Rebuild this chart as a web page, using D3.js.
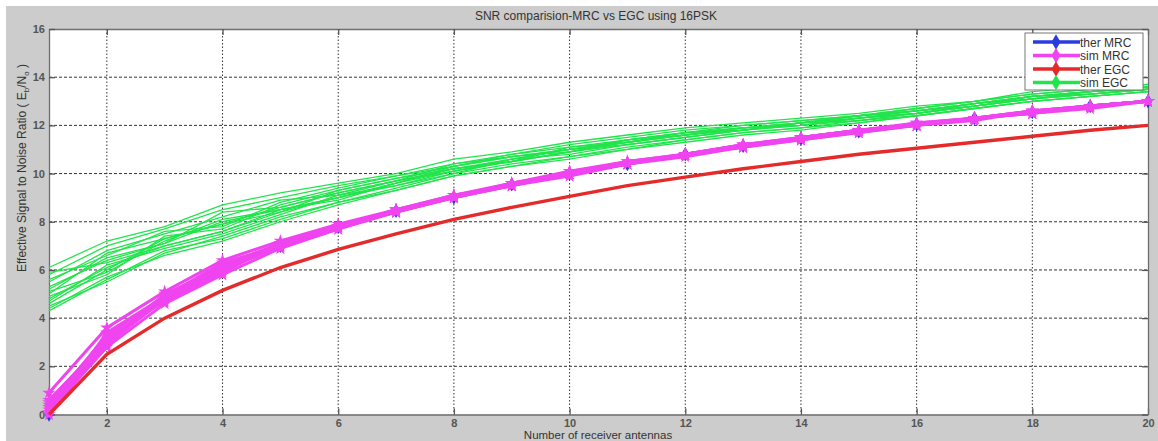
<!DOCTYPE html>
<html>
<head>
<meta charset="utf-8">
<script src="https://cdn.jsdelivr.net/npm/d3@7"></script>
<style>
  html, body { margin: 0; padding: 0; background: #ffffff; }
  svg { display: block; }
  text { font-family: "Liberation Sans", Arial, sans-serif; }
</style>
</head>
<body>
<svg id="chart" width="1158" height="441"></svg>
<script>
// Number of receiver antennas
const antennas = d3.range(1, 21);

// Theoretical effective SNR (dB)
const therMRC = [0, 3.0, 4.8, 6.0, 7.0, 7.8, 8.45, 9.0, 9.55, 10.0, 10.4, 10.8, 11.15, 11.45, 11.75, 12.05, 12.3, 12.55, 12.8, 13.0];
const therEGC = [0, 2.5, 4.0, 5.15, 6.1, 6.85, 7.5, 8.1, 8.6, 9.05, 9.5, 9.85, 10.2, 10.5, 10.8, 11.05, 11.3, 11.55, 11.8, 12.0];

// Simulated MRC runs
const simMRC1 = [0.9, 3.6, 5.1, 6.4, 7.2, 7.9, 8.5, 9.1, 9.6, 10.1, 10.5, 10.8, 11.2, 11.5, 11.8, 12.1, 12.3, 12.6, 12.8, 13.0];
const simMRC2 = [0.4, 3.3, 4.9, 6.2, 7.1, 7.8, 8.5, 9.0, 9.6, 10.0, 10.4, 10.8, 11.1, 11.5, 11.8, 12.0, 12.3, 12.5, 12.8, 13.0];
const simMRC3 = [0.1, 2.8, 4.6, 5.8, 6.9, 7.7, 8.4, 9.0, 9.5, 10.0, 10.4, 10.8, 11.1, 11.4, 11.7, 12.0, 12.3, 12.5, 12.8, 13.0];
const simMRC4 = [0.6, 3.1, 4.8, 6.0, 7.0, 7.8, 8.4, 9.1, 9.5, 10.0, 10.4, 10.8, 11.2, 11.5, 11.7, 12.1, 12.3, 12.6, 12.8, 13.0];
const simMRC5 = [0.2, 3.0, 5.0, 6.1, 7.0, 7.7, 8.5, 9.0, 9.5, 9.9, 10.4, 10.8, 11.1, 11.4, 11.8, 12.0, 12.3, 12.5, 12.7, 13.0];
const simMRC6 = [0.3, 3.2, 4.7, 5.9, 7.1, 7.8, 8.4, 9.0, 9.6, 10.0, 10.4, 10.7, 11.1, 11.5, 11.8, 12.0, 12.2, 12.6, 12.8, 13.0];
const simMRC7 = [0.5, 2.9, 4.8, 6.1, 6.9, 7.8, 8.5, 9.1, 9.5, 10.0, 10.5, 10.8, 11.2, 11.4, 11.7, 12.0, 12.3, 12.5, 12.8, 13.0];
const simMRC8 = [0.0, 3.4, 4.9, 6.3, 7.0, 7.8, 8.4, 9.0, 9.5, 10.1, 10.4, 10.8, 11.1, 11.5, 11.8, 12.0, 12.3, 12.6, 12.8, 13.0];
const simMRC = [simMRC1, simMRC2, simMRC3, simMRC4, simMRC5, simMRC6, simMRC7, simMRC8];

// Simulated EGC runs
const simEGC1  = [6.1, 7.2, 7.8, 8.7, 9.2, 9.6, 10.0, 10.6, 10.9, 11.3, 11.6, 11.9, 12.1, 12.3, 12.5, 12.8, 13.0, 13.4, 13.6, 13.7];
const simEGC2  = [4.3, 5.6, 6.8, 7.3, 8.1, 8.8, 9.3, 9.9, 10.3, 10.6, 11.0, 11.3, 11.6, 11.8, 12.1, 12.4, 12.7, 13.0, 13.2, 13.4];
const simEGC3  = [5.9, 6.3, 7.0, 7.6, 8.4, 9.0, 9.6, 10.2, 10.5, 10.9, 11.3, 11.6, 11.9, 12.1, 12.3, 12.6, 12.9, 13.2, 13.4, 13.6];
const simEGC4  = [4.6, 6.0, 7.3, 7.9, 8.6, 9.2, 9.7, 10.1, 10.6, 11.0, 11.2, 11.5, 11.8, 12.0, 12.3, 12.5, 12.8, 13.1, 13.3, 13.5];
const simEGC5  = [5.2, 6.5, 7.1, 8.0, 8.5, 9.0, 9.6, 10.3, 10.7, 10.9, 11.4, 11.7, 11.8, 12.1, 12.4, 12.6, 12.9, 13.2, 13.4, 13.6];
const simEGC6  = [4.9, 5.8, 7.4, 7.7, 8.7, 9.3, 9.8, 10.2, 10.5, 11.1, 11.3, 11.6, 11.9, 12.0, 12.3, 12.5, 12.8, 13.1, 13.3, 13.5];
const simEGC7  = [5.5, 6.8, 7.5, 8.2, 8.9, 9.1, 9.5, 10.0, 10.6, 10.8, 11.2, 11.5, 11.8, 12.1, 12.2, 12.5, 12.8, 13.2, 13.3, 13.5];
const simEGC8  = [4.7, 6.2, 6.9, 7.5, 8.3, 9.1, 9.7, 10.4, 10.7, 11.0, 11.3, 11.7, 11.9, 12.0, 12.3, 12.6, 12.9, 13.1, 13.4, 13.6];
const simEGC9  = [5.1, 5.9, 7.2, 8.1, 8.5, 8.9, 9.6, 10.1, 10.5, 10.9, 11.4, 11.6, 11.8, 12.1, 12.4, 12.6, 12.8, 13.1, 13.4, 13.5];
const simEGC10 = [5.6, 6.6, 7.6, 7.8, 8.8, 9.4, 9.9, 10.3, 10.8, 11.1, 11.4, 11.7, 12.0, 12.2, 12.4, 12.7, 13.0, 13.3, 13.5, 13.6];
const simEGC11 = [4.5, 5.5, 6.7, 7.4, 8.2, 8.8, 9.4, 10.0, 10.4, 10.7, 11.1, 11.4, 11.7, 11.9, 12.1, 12.4, 12.7, 13.0, 13.2, 13.4];
const simEGC12 = [5.3, 6.4, 7.1, 8.4, 8.6, 9.2, 9.7, 10.2, 10.6, 11.0, 11.3, 11.6, 11.9, 12.1, 12.3, 12.5, 12.9, 13.2, 13.4, 13.6];
const simEGC13 = [4.8, 6.1, 7.0, 7.6, 8.5, 9.0, 9.5, 10.1, 10.5, 10.9, 11.2, 11.5, 11.8, 12.0, 12.2, 12.5, 12.8, 13.1, 13.3, 13.5];
const simEGC14 = [5.0, 6.7, 7.3, 7.9, 8.4, 9.3, 9.8, 10.3, 10.7, 11.0, 11.4, 11.7, 11.9, 12.1, 12.4, 12.6, 12.9, 13.2, 13.4, 13.6];
const simEGC15 = [5.8, 7.0, 7.7, 8.5, 9.0, 9.5, 9.9, 10.4, 10.8, 11.2, 11.5, 11.8, 12.0, 12.2, 12.4, 12.7, 13.0, 13.3, 13.5, 13.7];
const simEGC16 = [4.4, 5.7, 6.6, 7.2, 8.0, 8.7, 9.3, 9.9, 10.3, 10.7, 11.0, 11.4, 11.7, 11.9, 12.2, 12.4, 12.7, 13.0, 13.2, 13.4];
const simEGC = [simEGC1, simEGC2, simEGC3, simEGC4, simEGC5, simEGC6, simEGC7, simEGC8,
                simEGC9, simEGC10, simEGC11, simEGC12, simEGC13, simEGC14, simEGC15, simEGC16];

// Axis ticks
const xTicks = [2, 4, 6, 8, 10, 12, 14, 16, 18, 20];
const yTicks = [0, 2, 4, 6, 8, 10, 12, 14, 16];

const legendLabels = ["ther MRC", "sim MRC", "ther EGC", "sim EGC"];

const colors = {
  therMRC: "#2a3ce0",
  simMRC: "#f044f0",
  therEGC: "#e42a2a",
  simEGC: "#22e44c"
};
const legendColors = [colors.therMRC, colors.simMRC, colors.therEGC, colors.simEGC];

const W = 1158, H = 441;
const plot = { left: 49, right: 1148, top: 29, bottom: 414.5 };

const svg = d3.select("#chart");

// figure background
svg.append("rect").attr("x", 0).attr("y", 0).attr("width", W).attr("height", H).attr("fill", "#ffffff");
svg.append("rect").attr("x", 6).attr("y", 6).attr("width", W - 6).attr("height", H - 6).attr("fill", "#cccccc");

const x = d3.scaleLinear().domain([1, 20]).range([plot.left, plot.right]);
const y = d3.scaleLinear().domain([0, 16]).range([plot.bottom, plot.top]);

// axes area
svg.append("rect")
  .attr("x", plot.left).attr("y", plot.top)
  .attr("width", plot.right - plot.left).attr("height", plot.bottom - plot.top)
  .attr("fill", "#ffffff");

// grid
const grid = svg.append("g");
grid.selectAll("line.gx").data(xTicks.filter(d => d < 20)).join("line")
  .attr("x1", d => x(d)).attr("x2", d => x(d))
  .attr("y1", plot.top).attr("y2", plot.bottom)
  .attr("stroke", "#333").attr("stroke-width", 1).attr("stroke-dasharray", "1.5,2");
grid.selectAll("line.gy").data(yTicks.filter(d => d > 0 && d < 16)).join("line")
  .attr("x1", plot.left).attr("x2", plot.right)
  .attr("y1", d => y(d)).attr("y2", d => y(d))
  .attr("stroke", "#333").attr("stroke-width", 1).attr("stroke-dasharray", "3,2");

// axes with inward ticks on all sides
const axisStyle = g => {
  g.select(".domain").attr("stroke", "#6e6e6e").attr("stroke-width", 1.3);
  g.selectAll(".tick line").attr("stroke", "#555").attr("stroke-width", 1.3);
  g.selectAll(".tick text")
    .attr("fill", "#555").attr("font-size", 11).attr("font-weight", "bold");
};

svg.append("g").attr("transform", `translate(0,${plot.bottom})`)
  .call(d3.axisBottom(x).tickValues(xTicks).tickSize(-6).tickSizeOuter(0).tickPadding(5))
  .call(axisStyle);
svg.append("g").attr("transform", `translate(0,${plot.top})`)
  .call(d3.axisTop(x).tickValues(xTicks).tickSize(-6).tickSizeOuter(0).tickFormat(""))
  .call(axisStyle);
svg.append("g").attr("transform", `translate(${plot.left},0)`)
  .call(d3.axisLeft(y).tickValues(yTicks).tickSize(-6).tickSizeOuter(0).tickPadding(4))
  .call(axisStyle);
svg.append("g").attr("transform", `translate(${plot.right},0)`)
  .call(d3.axisRight(y).tickValues(yTicks).tickSize(-6).tickSizeOuter(0).tickFormat(""))
  .call(axisStyle);

const line = d3.line().x((d, i) => x(antennas[i])).y(d => y(d));
const diamond = d3.symbol().type(d3.symbolDiamond);
const star = d3.symbol().type(d3.symbolStar);

// theoretical MRC with diamond markers
const gTM = svg.append("g");
gTM.append("path").datum(therMRC).attr("d", line)
  .attr("fill", "none").attr("stroke", colors.therMRC).attr("stroke-width", 3);
gTM.selectAll("path.m").data(therMRC).join("path")
  .attr("transform", (d, i) => `translate(${x(antennas[i])},${y(d)})`)
  .attr("d", diamond.size(60)).attr("fill", colors.therMRC);

// simulated MRC runs
const gSM = svg.append("g");
simMRC.forEach(run => {
  gSM.append("path").datum(run).attr("d", line)
    .attr("fill", "none").attr("stroke", colors.simMRC).attr("stroke-width", 3);
  gSM.append("g").selectAll("path").data(run).join("path")
    .attr("transform", (d, i) => `translate(${x(antennas[i])},${y(d)})`)
    .attr("d", star.size(55)).attr("fill", colors.simMRC);
});

// theoretical EGC
svg.append("path").datum(therEGC).attr("d", line)
  .attr("fill", "none").attr("stroke", colors.therEGC).attr("stroke-width", 3.4);

// simulated EGC runs
const gSE = svg.append("g");
simEGC.forEach(run => {
  gSE.append("path").datum(run).attr("d", line)
    .attr("fill", "none").attr("stroke", colors.simEGC).attr("stroke-width", 1.3);
});

// title and labels
svg.append("text").attr("x", 596).attr("y", 20).attr("text-anchor", "middle")
  .attr("font-size", 12).attr("fill", "#333").text("SNR comparision-MRC vs EGC using 16PSK");

svg.append("text").attr("x", 598).attr("y", 439).attr("text-anchor", "middle")
  .attr("font-size", 11.5).attr("fill", "#333").text("Number of receiver antennas");

const yl = svg.append("text")
  .attr("transform", "translate(26,168) rotate(-90)")
  .attr("text-anchor", "middle").attr("font-size", 12).attr("fill", "#333");
yl.append("tspan").text("Effective Signal to Noise Ratio ( E");
yl.append("tspan").attr("font-size", 8).attr("dy", 3).text("b");
yl.append("tspan").attr("dy", -3).text("/N");
yl.append("tspan").attr("font-size", 8).attr("dy", 3).text("o");
yl.append("tspan").attr("dy", -3).text(" )");

// legend
const lg = svg.append("g");
lg.append("rect").attr("x", 1025).attr("y", 33).attr("width", 118).attr("height", 57)
  .attr("fill", "#ffffff").attr("stroke", "#777").attr("stroke-width", 1);
legendLabels.forEach((lab, i) => {
  const cy = 42 + i * 13.5;
  lg.append("line").attr("x1", 1033).attr("x2", 1080).attr("y1", cy).attr("y2", cy)
    .attr("stroke", legendColors[i]).attr("stroke-width", 3.5);
  lg.append("path").attr("transform", `translate(1056,${cy})`)
    .attr("d", diamond.size(70)).attr("fill", legendColors[i]);
  lg.append("text").attr("x", 1080).attr("y", cy + 4.5)
    .attr("font-size", 12).attr("fill", "#333").text(lab);
});
</script>
</body>
</html>
